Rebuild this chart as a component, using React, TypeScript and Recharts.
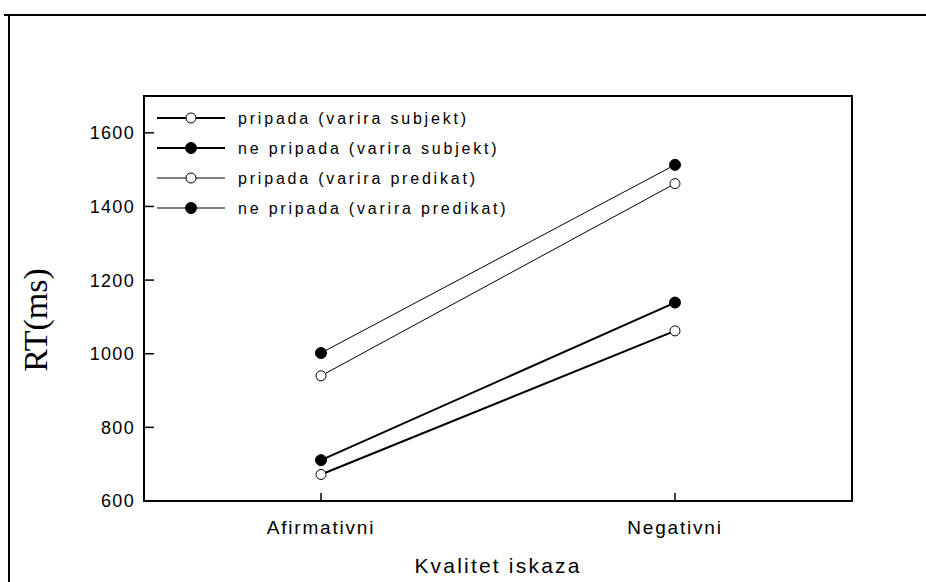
import { LineChart, Line, XAxis, YAxis, Label } from 'recharts'

const categories = ['Afirmativni', 'Negativni']
const pripadaSubjekt = [672, 1062]
const nePripadaSubjekt = [711, 1139]
const pripadaPredikat = [940, 1462]
const nePripadaPredikat = [1002, 1513]
const yTicks = [600, 800, 1000, 1200, 1400, 1600]

const series = [
  { key: 'ps', name: 'pripada (varira subjekt)', filled: false, width: 2 },
  { key: 'nps', name: 'ne pripada (varira subjekt)', filled: true, width: 2 },
  { key: 'pp', name: 'pripada (varira predikat)', filled: false, width: 1 },
  { key: 'npp', name: 'ne pripada (varira predikat)', filled: true, width: 1 },
]

const data = categories.map((c, i) => ({
  kvalitet: c,
  ps: pripadaSubjekt[i],
  nps: nePripadaSubjekt[i],
  pp: pripadaPredikat[i],
  npp: nePripadaPredikat[i],
}))

const SANS = '"Liberation Sans", Arial, sans-serif'
const X_MARGIN = 19

function YTick({ x, y, payload }: any) {
  return (
    <g>
      <text x={x} y={y} dy="0.36em" textAnchor="end" fontFamily={SANS} fontSize={18} letterSpacing={1.3} fill="#000">
        {payload.value}
      </text>
      <line x1={x + 9} y1={y} x2={x + 19} y2={y} stroke="#000" strokeWidth={1.5} />
    </g>
  )
}

function XTick({ x, y, payload }: any) {
  const axisY = y - X_MARGIN
  return (
    <g>
      <line x1={x} y1={axisY} x2={x} y2={axisY - 8} stroke="#000" strokeWidth={1.5} />
      <text x={x} y={y} dy="0.72em" textAnchor="middle" fontFamily={SANS} fontSize={19} letterSpacing={1.8} fill="#000">
        {payload.value}
      </text>
    </g>
  )
}

function LegendBox() {
  return (
    <svg width={400} height={130} style={{ position: 'absolute', left: 140, top: 98 }}>
      {series.map((s, i) => {
        const cy = 20 + i * 30
        return (
          <g key={s.key}>
            <line x1={17} y1={cy} x2={85} y2={cy} stroke="#000" strokeWidth={s.width} />
            <circle cx={51} cy={cy} r={s.filled ? 5.5 : 5} fill={s.filled ? '#000' : '#fff'} stroke="#000" strokeWidth={1} />
            <text x={98} y={cy} dy="0.36em" fontFamily={SANS} fontSize={16} letterSpacing={2.8} fill="#000">
              {s.name}
            </text>
          </g>
        )
      })}
    </svg>
  )
}

export default function App() {
  const axisStyle = { stroke: '#000', strokeWidth: 2, strokeLinecap: 'square' as const }
  return (
    <div style={{ position: 'fixed', left: 0, top: 0, width: 926, height: 582, background: '#fff' }}>
      <div style={{ position: 'absolute', left: 4, top: 14, width: 922, height: 2, background: '#000' }} />
      <div style={{ position: 'absolute', left: 8, top: 14, width: 2, height: 568, background: '#000' }} />
      <div
        style={{
          position: 'absolute',
          left: 143,
          top: 95,
          width: 710,
          height: 407,
          boxSizing: 'border-box',
          borderTop: '2px solid #000',
          borderRight: '2px solid #000',
        }}
      />
      <div style={{ position: 'absolute', left: 0, top: 0 }}>
        <LineChart width={926} height={582} data={data} margin={{ top: 96, right: 74, left: 84, bottom: 31 }}>
          <XAxis
            dataKey="kvalitet"
            height={50}
            padding={{ left: 177, right: 177 }}
            axisLine={axisStyle}
            tickSize={0}
            tickMargin={X_MARGIN}
            tick={<XTick />}
          >
            <Label
              content={({ viewBox }: any) => (
                <text
                  x={viewBox.x + viewBox.width / 2}
                  y={573}
                  textAnchor="middle"
                  fontFamily={SANS}
                  fontSize={21}
                  letterSpacing={2.2}
                  fill="#000"
                >
                  Kvalitet iskaza
                </text>
              )}
            />
          </XAxis>
          <YAxis
            domain={[600, 1700]}
            ticks={yTicks}
            width={60}
            axisLine={axisStyle}
            tickSize={0}
            tickMargin={9}
            tick={<YTick />}
            allowDataOverflow
          >
            <Label
              content={() => (
                <text
                  x={35}
                  y={320}
                  transform="rotate(-90 35 320)"
                  textAnchor="middle"
                  dominantBaseline="central"
                  fontFamily='"Liberation Serif", "Times New Roman", serif'
                  fontSize={34}
                  fill="#000"
                >
                  RT(ms)
                </text>
              )}
            />
          </YAxis>
          {series.map(s => (
            <Line
              key={s.key}
              dataKey={s.key}
              name={s.name}
              stroke="#000"
              strokeWidth={s.width}
              dot={{ r: s.filled ? 5.5 : 5, fill: s.filled ? '#000' : '#fff', stroke: '#000', strokeWidth: 1 }}
              activeDot={false}
              isAnimationActive={false}
            />
          ))}
        </LineChart>
      </div>
      <LegendBox />
    </div>
  )
}
